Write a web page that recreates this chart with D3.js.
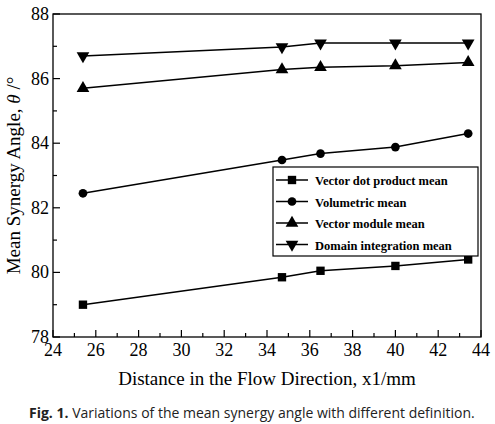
<!DOCTYPE html>
<html><head><meta charset="utf-8">
<script src="https://cdn.jsdelivr.net/npm/d3@7"></script>
<style>body{margin:0;background:#fff}</style>
</head><body><div id="app"></div>
<script>
var xs = [25.4, 34.7, 36.5, 40, 43.4];
var dotProduct = [79.0, 79.85, 80.05, 80.2, 80.4];
var volumetric = [82.45, 83.48, 83.68, 83.88, 84.3];
var vectorModule = [85.7, 86.28, 86.35, 86.4, 86.5];
var domainInt = [86.7, 86.98, 87.1, 87.1, 87.1];
var seriesNames = ["Vector dot product mean", "Volumetric mean", "Vector module mean", "Domain integration mean"];
var xTicks = [24, 26, 28, 30, 32, 34, 36, 38, 40, 42, 44];
var yTicks = [78, 80, 82, 84, 86, 88];

var W = 495, H = 424;
var padL = 53, padR = 481, padT = 14, padB = 337;

var svg = d3.select("#app").append("svg").attr("width", W).attr("height", H);
var x = d3.scaleLinear().domain([24, 44]).range([padL, padR]);
var y = d3.scaleLinear().domain([78, 88]).range([padB, padT]);

//FRAME
svg.append("rect").attr("x", padL).attr("y", padT)
    .attr("width", padR - padL).attr("height", padB - padT)
    .style("fill", "none").style("stroke", "#000").style("stroke-width", 1.3);

//TICKS
var serif = "Liberation Serif, Times New Roman, serif";
d3.range(24, 44.01, 1).forEach(function (v) {
    var major = v % 2 === 0;
    svg.append("line").attr("x1", x(v)).attr("x2", x(v))
        .attr("y1", padB).attr("y2", padB - (major ? 7 : 4))
        .style("stroke", "#000").style("stroke-width", 1.2);
});
d3.range(78, 88.01, 1).forEach(function (v) {
    var major = v % 2 === 0;
    svg.append("line").attr("y1", y(v)).attr("y2", y(v))
        .attr("x1", padL).attr("x2", padL + (major ? 7 : 4))
        .style("stroke", "#000").style("stroke-width", 1.2);
});
xTicks.forEach(function (v) {
    svg.append("text").attr("x", x(v)).attr("y", padB + 19)
        .attr("text-anchor", "middle").style("font", "18px " + serif).text(v);
});
yTicks.forEach(function (v) {
    svg.append("text").attr("x", padL - 4).attr("y", y(v) + 6)
        .attr("text-anchor", "end").style("font", "18px " + serif).text(v);
});

svg.append("text").attr("x", 267).attr("y", 385).attr("text-anchor", "middle")
    .style("font", "19px " + serif).text("Distance in the Flow Direction, x1/mm");
var yl = svg.append("text").attr("transform", "translate(20," + ((padT + padB) / 2) + ") rotate(-90)")
    .attr("text-anchor", "middle").style("font", "19px " + serif);
yl.append("tspan").text("Mean Synergy Angle, ");
yl.append("tspan").style("font-style", "italic").text("θ");
yl.append("tspan").text(" /°");

//SERIES
var symbols = [d3.symbolSquare, d3.symbolCircle, d3.symbolTriangle, d3.symbolTriangle];
var allSeries = [dotProduct, volumetric, vectorModule, domainInt];
var line = d3.line().x(function (d) { return x(d[0]); }).y(function (d) { return y(d[1]); });
function marker(g, i, cx, cy) {
    g.append("path").attr("d", d3.symbol().type(symbols[i]).size(i === 1 ? 60 : 70)())
        .attr("transform", "translate(" + cx + "," + cy + ")" + (i === 3 ? " rotate(180)" : ""))
        .style("fill", "#000");
}
allSeries.forEach(function (vals, i) {
    var pts = xs.map(function (v, j) { return [v, vals[j]]; });
    svg.append("path").attr("d", line(pts)).style("fill", "none")
        .style("stroke", "#000").style("stroke-width", 1.5);
    pts.forEach(function (p) { marker(svg, i, x(p[0]), y(p[1])); });
});

//LEGEND
var lg = svg.append("g");
lg.append("rect").attr("x", 273).attr("y", 167).attr("width", 205).attr("height", 89)
    .style("fill", "#fff").style("stroke", "#000").style("stroke-width", 1.2);
seriesNames.forEach(function (n, i) {
    var ly = 180 + i * 21.5;
    lg.append("line").attr("x1", 276).attr("x2", 308).attr("y1", ly).attr("y2", ly)
        .style("stroke", "#000").style("stroke-width", 1.5);
    marker(lg, i, 292, ly);
    lg.append("text").attr("x", 315).attr("y", ly + 5)
        .style("font", "bold 12.5px " + serif).text(n);
});

//CAPTION
var cap = svg.append("text").attr("x", 29).attr("y", 418).style("font", "14px 'Open Sans', sans-serif").style("fill", "#222");
cap.append("tspan").style("font-weight", "bold").text("Fig. 1.");
cap.append("tspan").text(" Variations of the mean synergy angle with different definition.");
</script></body></html>
